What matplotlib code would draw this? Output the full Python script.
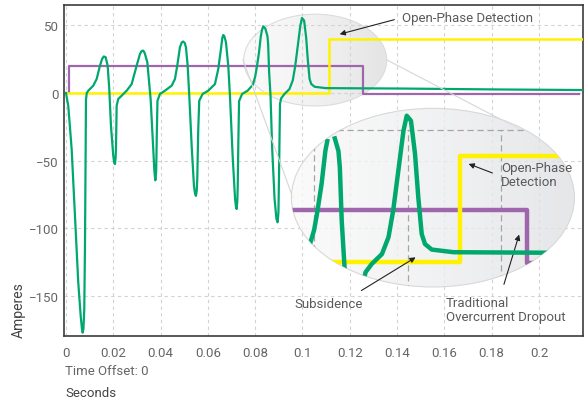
import numpy as np
import matplotlib.pyplot as plt
from matplotlib.patches import Ellipse
from matplotlib.lines import Line2D
from matplotlib.colors import LinearSegmentedColormap

plt.rcParams['font.family'] = ['Roboto', 'DejaVu Sans']

# current trace (seconds, amperes)
green_t = [0, 0.00097, 0.00241, 0.00381, 0.00520, 0.00622, 0.00675, 0.00706, 0.00740, 0.00774,
           0.00803, 0.00833, 0.00846, 0.00880, 0.00943, 0.01154, 0.01298, 0.01438, 0.01530, 0.01600,
           0.01679, 0.01763, 0.01831, 0.01903, 0.02000, 0.02040, 0.02072, 0.02100, 0.02114, 0.02144,
           0.02211, 0.02355, 0.02567, 0.02778, 0.02989, 0.03129, 0.03200, 0.03268, 0.03330, 0.03440,
           0.03580, 0.03690, 0.03740, 0.03780, 0.03815, 0.03845, 0.03870, 0.03975, 0.04186, 0.04469,
           0.04609, 0.04706, 0.04820, 0.04900, 0.04960, 0.05020, 0.05074, 0.05146, 0.05214, 0.05315,
           0.05412, 0.05460, 0.05497, 0.05530, 0.05552, 0.05594, 0.05636, 0.05780, 0.06017, 0.06300,
           0.06440, 0.06554, 0.06610, 0.06651, 0.06700, 0.06765, 0.06863, 0.06934, 0.07048, 0.07150,
           0.07188, 0.07218, 0.07245, 0.07262, 0.07290, 0.07320, 0.07450, 0.07680, 0.07900, 0.08000,
           0.08060, 0.08160, 0.08240, 0.08290, 0.08340, 0.08430, 0.08520, 0.08550, 0.08590, 0.08650,
           0.08720, 0.08820, 0.08900, 0.08950, 0.08985, 0.09010, 0.09050, 0.09100, 0.09230, 0.09450,
           0.09590, 0.09690, 0.09800, 0.09910, 0.09980, 0.10070, 0.10157, 0.10227, 0.10300, 0.10370,
           0.10514, 0.10980, 0.12970, 0.14120, 0.18350, 0.21820]
green_v = [0, -9.4, -41.4, -90.7, -139.9, -164.5, -174, -177, -174, -160,
           -115.3, -41.4, -5, 0, 1.7, 5.4, 10.3, 20.2, 25.2, 27,
           26.4, 20.2, 3, -24.2, -46.3, -51.5, -52.5, -48, -41.4, -9.4,
           -4.4, -2, 1.7, 6.6, 20.2, 28.8, 31, 31.3, 29.5, 22.7,
           -4.4, -41, -58, -64.5, -58, -26.6, -5.7, -0.7, 1.7, 5.4,
           10.3, 20.2, 33.8, 37.5, 38, 37, 33.8, 20.2, -2, -38.9,
           -68.5, -74.5, -76, -72, -63.5, -26.6, -5.7, -0.7, 1.7, 6.6,
           17.7, 32.5, 40.5, 42.8, 41.8, 37.5, 20.2, -2, -46.3, -78,
           -84, -85.7, -80, -70, -35, -6, -0.7, 1.7, 6, 12,
           18, 29.5, 42, 46.6, 49.3, 47.6, 42, 35.8, 15.6, -2,
           -41, -78, -93, -95.5, -88, -60, -8, -4, -0.9, 2.9,
           9.3, 19.4, 34.5, 49.7, 55.4, 53.5, 40.9, 24.4, 10.5, 6.7,
           4.6, 3.6, 3.4, 3.3, 2.6, 2.2]

# traditional overcurrent (purple) and open-phase detection (yellow) steps
purple_t = [0, 0.0013, 0.1255, 0.2170]
purple_v = [0, 19.7, -0.5, -0.5]
yellow_t = [0, 0.1112, 0.2180]
yellow_v = [0, 40, 40]

xticks = [0, 0.02, 0.04, 0.06, 0.08, 0.1, 0.12, 0.14, 0.16, 0.18, 0.2]
xlabels = ['0', '0.02', '0.04', '0.06', '0.08', '0.1', '0.12', '0.14', '0.16', '0.18', '0.2']
yticks = [-150, -100, -50, 0, 50]
ylabels = ['\u2212150', '\u2212100', '\u221250', '0', '50']
inset_grid_t = [0.08, 0.10, 0.12]

GREEN = '#00a86e'
PURPLE = '#9f66ae'
YELLOW = '#fff200'
TXT = '#5a5a5a'

W, H = 585, 402
fig = plt.figure(figsize=(W / 100, H / 100), dpi=100)

def fx(px):
    return px / W

def fy(py):
    return 1 - py / H

ax = fig.add_axes([fx(64.3), fy(337), (582.7 - 64.3) / W, (337 - 6) / H])

# magnified region (same data box in both ellipses)
ell_c = (0.1054, 24.3)
ell_w, ell_h = 0.0605, 67.8
grad = np.linspace(0, 1, 256).reshape(1, -1)
cm_small = LinearSegmentedColormap.from_list('s', ['#fbfbfb', '#f0f0f0', '#e2e2e2'])
cm_big = LinearSegmentedColormap.from_list('b', ['#fafafa', '#eeeff0', '#e0e1e4'])

ext = [ell_c[0] - ell_w / 2, ell_c[0] + ell_w / 2, ell_c[1] - ell_h / 2, ell_c[1] + ell_h / 2]
small = Ellipse(ell_c, ell_w, ell_h, fc='none', ec='#dcdcdc', lw=0.8, zorder=0.4)
ax.add_patch(small)
im = ax.imshow(grad, extent=ext, cmap=cm_small, aspect='auto', zorder=0.3, alpha=0.9)
im.set_clip_path(small)

ax.plot(purple_t, purple_v, color=PURPLE, lw=1.6, drawstyle='steps-post', zorder=2)
ax.plot(yellow_t, yellow_v, color=YELLOW, lw=1.8, drawstyle='steps-post', zorder=3)
ax.plot(green_t, green_v, color=GREEN, lw=1.6, zorder=4)

ax.set_xlim(-0.0007, 0.2185)
ax.set_ylim(-179.5, 65)
ax.set_xticks(xticks)
ax.set_xticklabels(xlabels)
ax.set_yticks(yticks)
ax.set_yticklabels(ylabels)
ax.set_axisbelow(True)
ax.grid(True, color='#d2d2d2', ls=(0, (3, 3)), lw=0.8)
ax.tick_params(length=0, labelsize=9.5, labelcolor='#666666')
ax.tick_params(axis='x', pad=7)
ax.tick_params(axis='y', pad=4)
for s in ax.spines.values():
    s.set_color('#3c3c3c')
    s.set_linewidth(1.2)

ax.annotate('', xy=(0.1146, 42.9), xytext=(0.1400, 54.7),
            arrowprops=dict(arrowstyle='-|>', color='#222222', lw=0.8, mutation_scale=8))
ax.text(0.1420, 55.4, 'Open-Phase Detection', fontsize=9.5, color=TXT, va='center', ha='left')

fig.text(fx(19), fy(310), 'Amperes', rotation=90, fontsize=10, color='#444444',
         ha='center', va='center')
fig.text(fx(65), fy(372), 'Time Offset: 0', fontsize=9.5, color='#666666', ha='left', va='center')
fig.text(fx(65), fy(394), 'Seconds', fontsize=9.5, color='#444444', ha='left', va='center')

# connector lines between the two ellipses
for (x0, y0), (x1, y1) in [((243, 61), (293, 199)), ((387, 61), (521, 131))]:
    fig.add_artist(Line2D([fx(x0), fx(x1)], [fy(y0), fy(y1)], transform=fig.transFigure,
                          color='#d6d6d6', lw=0.8, zorder=0.5))

# magnified inset
ax_in = fig.add_axes([fx(280), fy(300), 310 / W, 200 / H], zorder=1)
ax_in.axis('off')

big = Ellipse(ell_c, ell_w, ell_h, fc='none', ec='#d8d8d8', lw=0.8, zorder=1)
ax_in.add_patch(big)
im2 = ax_in.imshow(grad, extent=ext, cmap=cm_big, aspect='auto', zorder=0, alpha=0.8)
im2.set_clip_path(big)
ax_in.set_xlim(0.07271, 0.13897)
ax_in.set_ylim(-14.16, 61.75)

clip = Ellipse(ell_c, ell_w, ell_h, fc='none', ec='none')
ax_in.add_patch(clip)

vl = ax_in.vlines(inset_grid_t, -15, 50, colors='#a5a5a5', linestyles=(0, (5, 3)), lw=0.9, zorder=1)
hl = ax_in.hlines([50], 0.07, 0.14, colors='#a5a5a5', linestyles=(0, (5, 3)), lw=0.9, zorder=1)
vl.set_clip_path(clip)
hl.set_clip_path(clip)

gt = np.array(green_t)
gv = np.array(green_v)
gv_in = np.where((gt > 0.081) & (gt < 0.086) & (gv > 48), np.nan, gv)

lines = []
lines += ax_in.plot(purple_t, purple_v, color=PURPLE, lw=3.2, drawstyle='steps-post', zorder=2)
lines += ax_in.plot(yellow_t, yellow_v, color=YELLOW, lw=3.2, drawstyle='steps-post', zorder=3)
lines += ax_in.plot(gt, gv_in, color=GREEN, lw=3.2, zorder=4, solid_capstyle='butt')
for ln in lines:
    ln.set_clip_path(clip)

arrow = dict(arrowstyle='-|>', color='#222222', lw=0.8, mutation_scale=8)
ax_in.annotate('', xy=(0.11247, 37.5), xytext=(0.11866, 33.3), arrowprops=arrow, annotation_clip=False)
ax_in.text(0.1200, 33.0, 'Open-Phase\nDetection', fontsize=9.5, color=TXT, ha='left', va='center',
           linespacing=1.05, clip_on=False)
ax_in.annotate('', xy=(0.1022, 2.2), xytext=(0.0896, -11.5), arrowprops=arrow, annotation_clip=False)
ax_in.text(0.0757, -16.0, 'Subsidence', fontsize=9.5, color=TXT, ha='left', va='center', clip_on=False)
ax_in.annotate('', xy=(0.1240, 11.3), xytext=(0.1204, -9.6), arrowprops=arrow, annotation_clip=False)
ax_in.text(0.1082, -13.0, 'Traditional\nOvercurrent Dropout', fontsize=9.5, color=TXT, ha='left',
           va='top', linespacing=1.15, clip_on=False)

fig.savefig('out.png', dpi=100)
